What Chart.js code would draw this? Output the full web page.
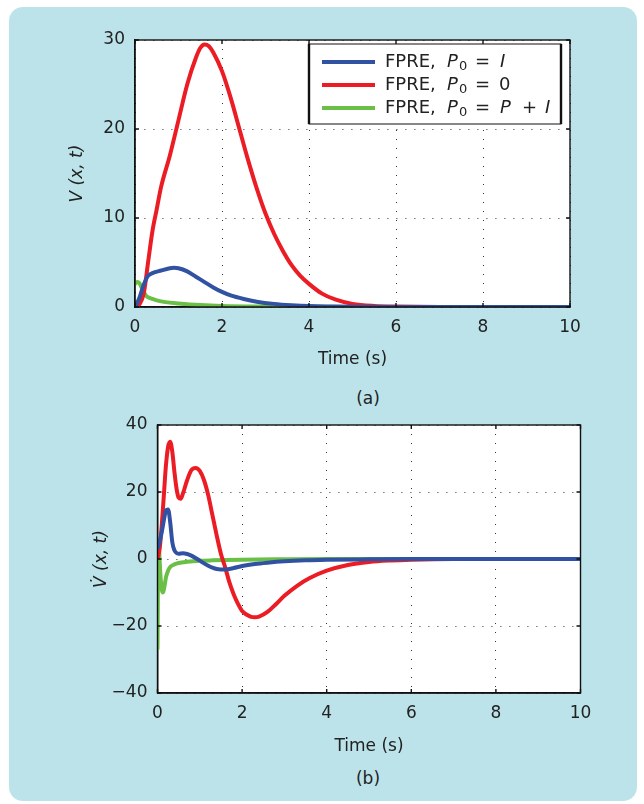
<!DOCTYPE html>
<html>
<head>
<meta charset="utf-8">
<script src="https://cdn.jsdelivr.net/npm/chart.js@4.4.1/dist/chart.umd.min.js"></script>
<style>
  html, body { margin: 0; padding: 0; background: #fff; }
  body { width: 644px; height: 804px; position: relative; overflow: hidden; font-family: 'DejaVu Sans', sans-serif; color: #222; }
  #panel { position: absolute; left: 9px; top: 7px; width: 628px; height: 794px; background: #bce3ea; border-radius: 14px; }
  canvas { position: absolute; left: 0; }
  #chartA { top: 0; }
  #chartB { top: 385px; }
  .caption { position: absolute; left: 318px; width: 100px; text-align: center; font-size: 17px; line-height: 20px; }
</style>
</head>
<body>
<div id="panel"></div>
<canvas id="chartA" width="644" height="372"></canvas>
<div class="caption" style="top:388px">(a)</div>
<canvas id="chartB" width="644" height="374"></canvas>
<div class="caption" style="top:768px">(b)</div>

<script>
// Graduations des axes
const xTicks = [0, 2, 4, 6, 8, 10];
const yTicksA = [0, 10, 20, 30];
const yTicksB = [-40, -20, 0, 20, 40];

const seriesLabels = ['FPRE, P0 = I', 'FPRE, P0 = 0', 'FPRE, P0 = P + I'];
const seriesColors = ['#3152a2', '#ec1c24', '#6abf47'];

// (a) V(x,t) — P0 = I
const tA_blue = [0, 0.1, 0.2, 0.3, 0.4, 0.6, 0.8, 0.9, 1.0, 1.2, 1.4, 1.6, 1.8, 2.0, 2.2, 2.5, 2.8, 3.2, 3.6, 4.0, 4.5, 5, 6, 7, 8, 10];
const vA_blue = [0, 1.0, 2.5, 3.5, 3.8, 4.1, 4.35, 4.4, 4.35, 4.0, 3.4, 2.8, 2.2, 1.7, 1.3, 0.9, 0.6, 0.35, 0.2, 0.1, 0.05, 0.02, 0, 0, 0, 0];
// (a) V(x,t) — P0 = 0
const tA_red = [0, 0.1, 0.2, 0.3, 0.4, 0.5, 0.6, 0.8, 1.0, 1.2, 1.4, 1.5, 1.6, 1.7, 1.8, 2.0, 2.2, 2.4, 2.6, 2.8, 3.0, 3.2, 3.4, 3.6, 3.8, 4.0, 4.3, 4.6, 5.0, 5.5, 6, 7, 8, 9, 10];
const vA_red = [0, 0.3, 1.5, 5, 8.5, 11, 13.5, 17, 21, 25, 28, 29.1, 29.5, 29.3, 28.6, 26.5, 23.5, 20, 16.5, 13.3, 10.5, 8.2, 6.3, 4.7, 3.5, 2.6, 1.5, 0.85, 0.35, 0.12, 0.05, 0, 0, 0, 0];
// (a) V(x,t) — P0 = P + I
const tA_green = [0, 0.05, 0.1, 0.15, 0.2, 0.25, 0.3, 0.4, 0.5, 0.7, 1.0, 1.5, 2, 3, 4, 6, 8, 10];
const vA_green = [2.6, 2.8, 2.7, 2.2, 1.7, 1.3, 1.1, 0.9, 0.75, 0.55, 0.4, 0.22, 0.12, 0.05, 0.02, 0, 0, 0];

// (b) dérivée — P0 = I
const tB_blue = [0, 0.05, 0.1, 0.15, 0.2, 0.25, 0.3, 0.35, 0.4, 0.45, 0.5, 0.6, 0.7, 0.8, 0.9, 1.0, 1.1, 1.2, 1.3, 1.4, 1.5, 1.6, 1.8, 2.0, 2.3, 2.6, 3.0, 3.5, 4, 5, 6, 8, 10];
const vB_blue = [3, 5, 8, 11.5, 14.5, 14.8, 11, 5, 2.6, 1.8, 1.6, 1.7, 1.5, 1, 0.3, -0.5, -1.3, -2, -2.6, -3, -3.1, -3.1, -2.7, -2.1, -1.5, -1.1, -0.7, -0.4, -0.25, -0.1, 0, 0, 0];
// (b) dérivée — P0 = 0
const tB_red = [0, 0.05, 0.1, 0.15, 0.2, 0.25, 0.3, 0.35, 0.4, 0.45, 0.5, 0.55, 0.6, 0.7, 0.8, 0.9, 1.0, 1.1, 1.2, 1.3, 1.4, 1.5, 1.6, 1.7, 1.8, 1.9, 2.0, 2.2, 2.3, 2.4, 2.6, 2.8, 3.0, 3.3, 3.6, 4.0, 4.5, 5, 5.5, 6, 7, 8, 10];
const vB_red = [0, 3, 10, 19, 28, 33.5, 35, 32, 26, 21, 18.3, 18, 19.5, 23.5, 26.5, 27.2, 26.3, 23.5, 19, 13, 7, 1.5, -2.5, -7, -10.5, -13.3, -15.5, -17.2, -17.4, -17.2, -15.8, -13.5, -11, -8, -5.7, -3.5, -1.8, -0.9, -0.45, -0.2, 0, 0, 0];
// (b) dérivée — P0 = P + I
const tB_green = [0, 0.02, 0.04, 0.07, 0.1, 0.13, 0.16, 0.2, 0.25, 0.3, 0.4, 0.5, 0.7, 1.0, 1.3, 1.6, 2, 3, 4, 6, 10];
const vB_green = [-27, 4, 2, -5, -9, -10, -8.5, -5.5, -3.5, -2.4, -1.6, -1.2, -0.85, -0.55, -0.4, -0.3, -0.2, -0.08, 0, 0, 0];

const FONT = "'DejaVu Sans', sans-serif";
Chart.defaults.font.family = FONT;
Chart.defaults.font.size = 17;
Chart.defaults.color = '#222';

function toPoints(t, v) {
    return t.map((x, i) => ({ x: x, y: v[i] }));
}

function makeDataset(label, color, t, v) {
    return {
        label: label,
        data: toPoints(t, v),
        borderColor: color,
        backgroundColor: color,
        borderWidth: 4,
        pointRadius: 0,
        cubicInterpolationMode: 'monotone',
        fill: false
    };
}

// Fond blanc, cadre fermé et graduations intérieures (style MATLAB)
const boxPlugin = {
    id: 'axisBox',
    beforeDraw(chart) {
        const { ctx, chartArea: a } = chart;
        ctx.save();
        ctx.fillStyle = '#fff';
        ctx.fillRect(a.left, a.top, a.right - a.left, a.bottom - a.top);
        ctx.restore();
    },
    afterDatasetsDraw(chart) {
        const { ctx, chartArea: a, scales } = chart;
        const len = 4;
        ctx.save();
        ctx.strokeStyle = '#111';
        ctx.lineWidth = 1.4;
        ctx.strokeRect(a.left, a.top, a.right - a.left, a.bottom - a.top);
        ctx.beginPath();
        scales.x.ticks.forEach(tk => {
            const px = scales.x.getPixelForValue(tk.value);
            ctx.moveTo(px, a.bottom); ctx.lineTo(px, a.bottom - len);
            ctx.moveTo(px, a.top); ctx.lineTo(px, a.top + len);
        });
        scales.y.ticks.forEach(tk => {
            const py = scales.y.getPixelForValue(tk.value);
            ctx.moveTo(a.left, py); ctx.lineTo(a.left + len, py);
            ctx.moveTo(a.right, py); ctx.lineTo(a.right - len, py);
        });
        ctx.stroke();
        ctx.restore();
    }
};

// Légende avec indices et italiques, dessinée à la main (espacement façon TeX)
function drawRich(ctx, parts, y) {
    parts.forEach(p => {
        const size = p.sub ? 13 : 18;
        ctx.font = (p.it ? 'italic ' : '') + size + 'px ' + FONT;
        ctx.fillText(p.s, p.x, y + (p.sub ? 5 : 0));
    });
}

const legendPlugin = {
    id: 'richLegend',
    afterDraw(chart) {
        const ctx = chart.ctx;
        const box = { l: 309, t: 44, r: 561, b: 124 };
        const rows = [62, 85, 108];
        const head = [{ s: 'FPRE,', x: 385 }, { s: 'P', it: true, x: 447 }, { s: '0', sub: true, x: 459 }, { s: '=', x: 475 }];
        const texts = [
            head.concat([{ s: 'I', it: true, x: 500 }]),
            head.concat([{ s: '0', x: 499 }]),
            head.concat([{ s: 'P', it: true, x: 500 }, { s: '+', x: 522 }, { s: 'I', it: true, x: 545 }])
        ];
        ctx.save();
        ctx.fillStyle = '#fff';
        ctx.fillRect(box.l, box.t, box.r - box.l, box.b - box.t);
        ctx.strokeStyle = '#111';
        ctx.lineWidth = 1;
        ctx.strokeRect(box.l, box.t, box.r - box.l, box.b - box.t);
        // bords verticaux plus épais
        ctx.lineWidth = 2.4;
        ctx.beginPath();
        ctx.moveTo(box.l, box.t); ctx.lineTo(box.l, box.b);
        ctx.moveTo(box.r, box.t); ctx.lineTo(box.r, box.b);
        ctx.stroke();
        ctx.textBaseline = 'middle';
        ctx.textAlign = 'left';
        rows.forEach((y, i) => {
            ctx.strokeStyle = seriesColors[i];
            ctx.lineWidth = 4;
            ctx.beginPath();
            ctx.moveTo(322, y);
            ctx.lineTo(375, y);
            ctx.stroke();
            ctx.fillStyle = '#222';
            drawRich(ctx, texts[i], y);
        });
        ctx.restore();
    }
};

function makeOptions(yTicks, yTitle, yWidth, titleOffset, padRight, xHeight) {
    return {
        responsive: false,
        animation: false,
        layout: { padding: { left: 0, top: 40, right: padRight, bottom: 0 } },
        plugins: { legend: { display: false }, tooltip: { enabled: false } },
        scales: {
            x: {
                type: 'linear',
                min: xTicks[0],
                max: xTicks[xTicks.length - 1],
                afterBuildTicks: s => { s.ticks = xTicks.map(v => ({ value: v })); },
                afterFit: s => { s.height = xHeight; },
                ticks: { padding: 10, color: '#222' },
                grid: { color: '#333', lineWidth: 1, drawTicks: false },
                border: { display: true, color: '#111', width: 1.4, dash: [1, 8] },
                title: { display: true, text: 'Time (s)', color: '#222', padding: { top: 0, bottom: 2 } }
            },
            y: {
                type: 'linear',
                min: yTicks[0],
                max: yTicks[yTicks.length - 1],
                afterBuildTicks: s => { s.ticks = yTicks.map(v => ({ value: v })); },
                afterFit: s => { s.width = yWidth; },
                ticks: {
                    padding: 10, color: '#222',
                    callback: v => String(v).replace('-', '\u2212')
                },
                grid: { color: '#333', lineWidth: 1, drawTicks: false },
                border: { display: true, color: '#111', width: 1.4, dash: [1, 8] },
                title: { display: true, text: yTitle, color: '#222', font: { style: 'italic' }, padding: { top: titleOffset, bottom: 0 } }
            }
        }
    };
}

document.addEventListener('DOMContentLoaded', () => {
    // Graphique (a)
    new Chart(document.getElementById('chartA').getContext('2d'), {
        type: 'line',
        data: {
            datasets: [
                makeDataset(seriesLabels[0], seriesColors[0], tA_blue, vA_blue),
                makeDataset(seriesLabels[1], seriesColors[1], tA_red, vA_red),
                makeDataset(seriesLabels[2], seriesColors[2], tA_green, vA_green)
            ]
        },
        options: makeOptions(yTicksA, 'V (x, t)', 135, 67, 74, 65),
        plugins: [boxPlugin, legendPlugin]
    });

    // Graphique (b)
    new Chart(document.getElementById('chartB').getContext('2d'), {
        type: 'line',
        data: {
            datasets: [
                makeDataset(seriesLabels[0], seriesColors[0], tB_blue, vB_blue),
                makeDataset(seriesLabels[1], seriesColors[1], tB_red, vB_red),
                makeDataset(seriesLabels[2], seriesColors[2], tB_green, vB_green)
            ]
        },
        options: makeOptions(yTicksB, 'V\u0307 (x, t)', 157.5, 91, 63.5, 66),
        plugins: [boxPlugin]
    });
});
</script>
</body>
</html>
